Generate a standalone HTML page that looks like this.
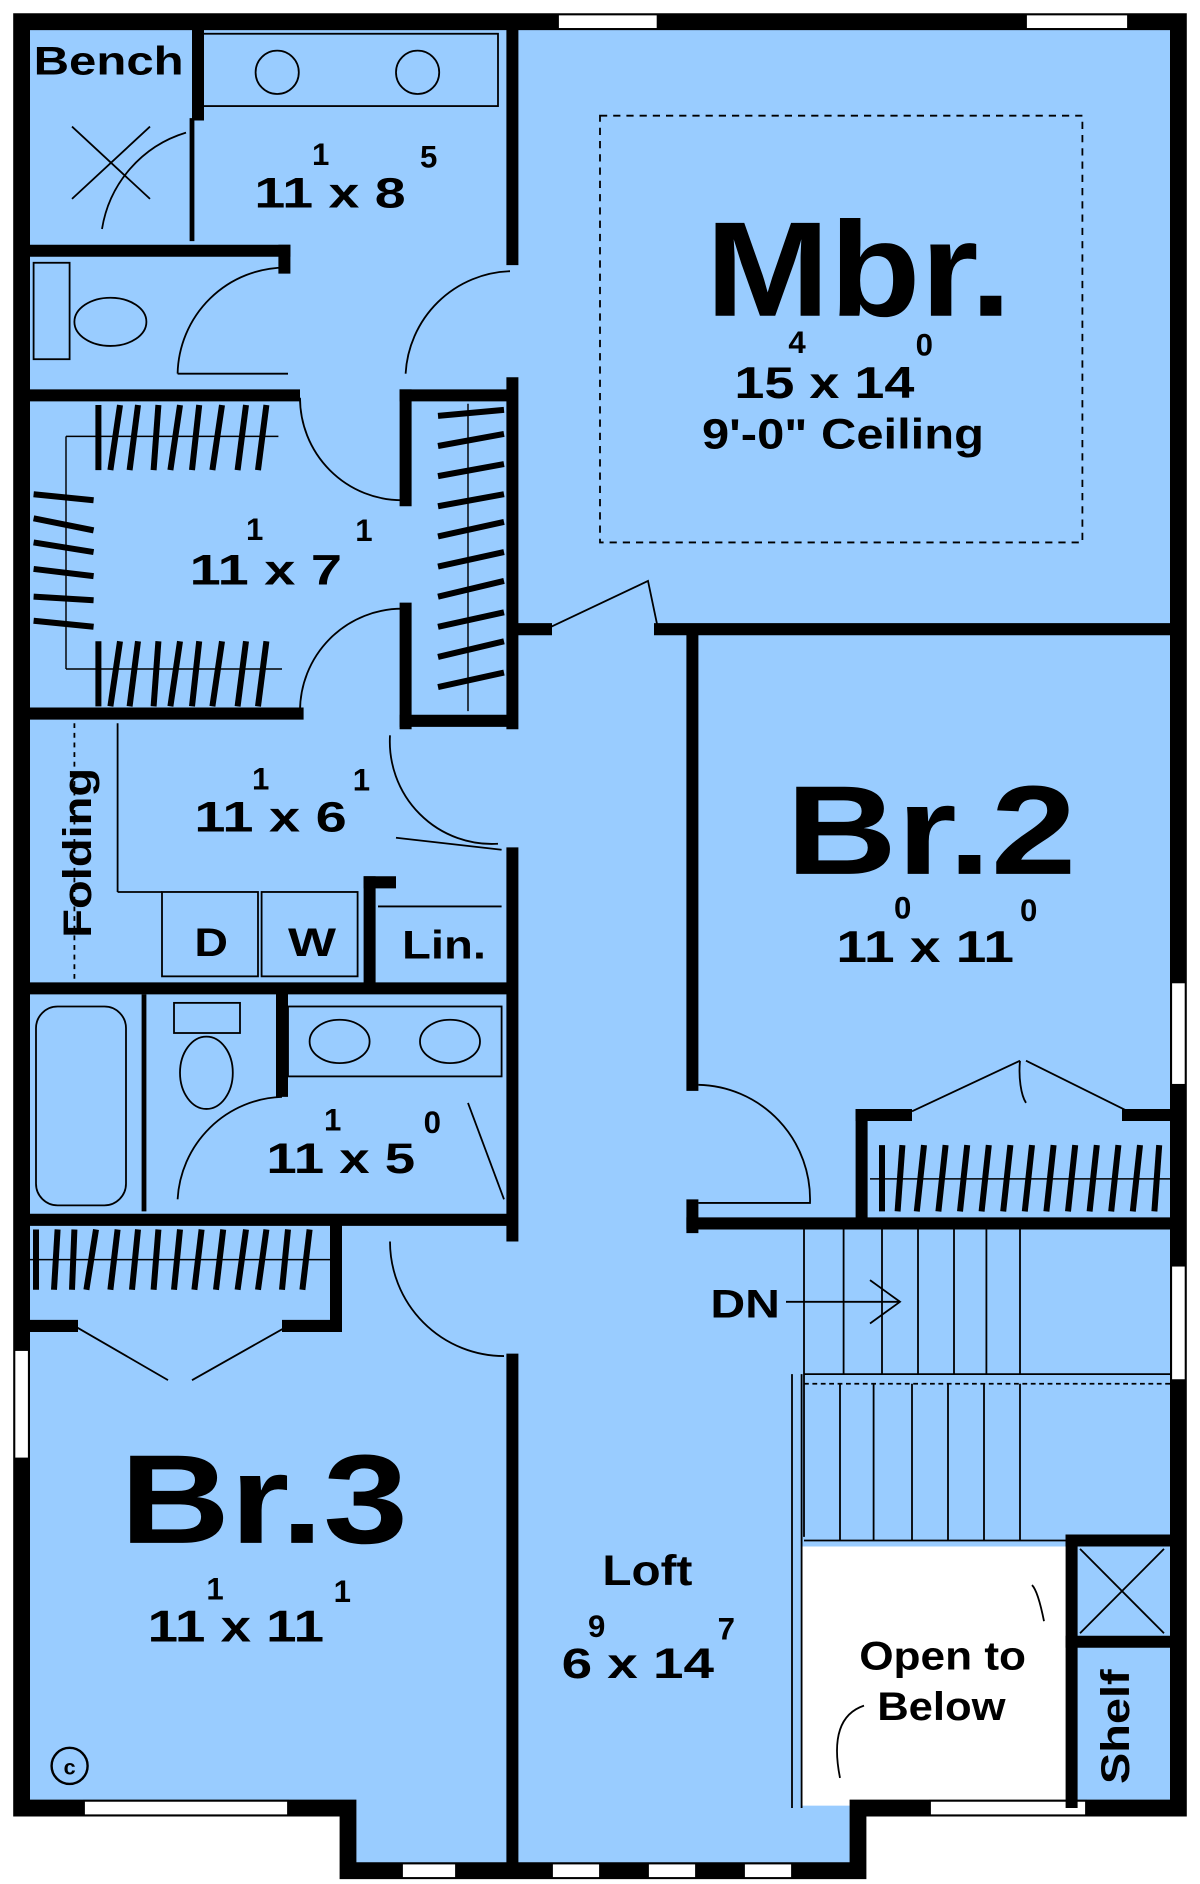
<!DOCTYPE html>
<html><head><meta charset="utf-8"><style>
html,body{margin:0;padding:0;background:#fff;}
svg{display:block;}
text{font-family:"Liberation Sans",Arial,sans-serif;font-weight:bold;fill:#000;}
</style></head><body>
<svg width="1200" height="1884" viewBox="0 0 1000 1563" preserveAspectRatio="none" xmlns="http://www.w3.org/2000/svg">
<rect width="1000" height="1563" fill="#fff"/>
<polygon points="18,18 982,18 982,1500 715,1500 715,1552 290,1552 290,1500 18,1500" fill="#99ccff"/>
<rect x="668" y="1283" width="222" height="215" fill="#fff"/>
<g fill="none" stroke="#000" stroke-width="14" stroke-linejoin="miter">
<polygon points="18,18 982,18 982,1500 715,1500 715,1552 290,1552 290,1500 18,1500"/>
</g>
<g fill="#fff" stroke="#000" stroke-width="1.5">
<rect x="465" y="12" width="83" height="12"/><rect x="855" y="12" width="85" height="12"/>
<rect x="976" y="815" width="12" height="85"/><rect x="976" y="1050" width="12" height="95"/>
<rect x="12" y="1120" width="12" height="90"/>
<rect x="70" y="1494" width="170" height="12"/><rect x="775" y="1494" width="130" height="12"/>
<rect x="335" y="1546" width="45" height="12"/><rect x="460" y="1546" width="40" height="12"/><rect x="540" y="1546" width="40" height="12"/><rect x="620" y="1546" width="40" height="12"/>
</g>
<g stroke="#000" stroke-width="10" fill="none" stroke-linecap="square">
<line x1="427" y1="18" x2="427" y2="215"/>
<line x1="427" y1="318" x2="427" y2="600"/>
<line x1="427" y1="708" x2="427" y2="1025"/>
<line x1="427" y1="1128" x2="427" y2="1550"/>
<line x1="430" y1="522" x2="455" y2="522"/>
<line x1="550" y1="522" x2="975" y2="522"/>
<line x1="577" y1="530" x2="577" y2="900"/>
<line x1="577" y1="1000" x2="577" y2="1018"/>
<line x1="577" y1="1015" x2="975" y2="1015"/>
<line x1="718" y1="925" x2="718" y2="1010"/>
<line x1="718" y1="925" x2="755" y2="925"/>
<line x1="940" y1="925" x2="975" y2="925"/>
<line x1="893" y1="1278" x2="975" y2="1278"/>
<line x1="893" y1="1278" x2="893" y2="1495"/>
<line x1="893" y1="1362" x2="975" y2="1362"/>
<line x1="18" y1="208" x2="237" y2="208"/>
<line x1="237" y1="208" x2="237" y2="222"/>
<line x1="165" y1="25" x2="165" y2="95"/>
<line x1="18" y1="328" x2="245" y2="328"/>
<line x1="338" y1="328" x2="425" y2="328"/>
<line x1="338" y1="328" x2="338" y2="415"/>
<line x1="18" y1="592" x2="248" y2="592"/>
<line x1="338" y1="505" x2="338" y2="600"/>
<line x1="338" y1="598" x2="425" y2="598"/>
<line x1="18" y1="820" x2="425" y2="820"/>
<line x1="235" y1="825" x2="235" y2="905"/>
<line x1="308" y1="732" x2="308" y2="815"/>
<line x1="308" y1="732" x2="325" y2="732"/>
<line x1="18" y1="1012" x2="425" y2="1012"/>
<line x1="280" y1="1015" x2="280" y2="1100"/>
<line x1="18" y1="1100" x2="60" y2="1100"/>
<line x1="240" y1="1100" x2="280" y2="1100"/>
</g>
<g stroke="#000" stroke-width="4">
<line x1="160" y1="98" x2="160" y2="200"/>
<line x1="120" y1="825" x2="120" y2="1005"/>
</g>
<g stroke="#000" stroke-width="1.5" fill="none">
<rect x="165" y="28" width="250" height="60"/>
<rect x="28" y="218" width="30" height="80"/>
<ellipse cx="92" cy="267" rx="30" ry="20"/>
<ellipse cx="231" cy="60" rx="18" ry="18"/><ellipse cx="348" cy="60" rx="18" ry="18"/>
<rect x="240" y="835" width="178" height="58"/>
<ellipse cx="283" cy="864" rx="25" ry="18"/><ellipse cx="375" cy="864" rx="25" ry="18"/>
<rect x="145" y="832" width="55" height="25"/>
<ellipse cx="172" cy="890" rx="22" ry="30"/>
<rect x="30" y="835" width="75" height="165" rx="18"/>
<rect x="135" y="740" width="80" height="70"/><rect x="218" y="740" width="80" height="70"/>
<line x1="98" y1="600" x2="98" y2="740"/><line x1="98" y1="740" x2="135" y2="740"/>
<line x1="62" y1="600" x2="62" y2="815" stroke-dasharray="4,4"/>
<line x1="315" y1="752" x2="418" y2="752"/>
<rect x="500" y="96" width="402" height="354" stroke-dasharray="6,5"/>
<path d="M148,310 A90,90 0 0 1 238,222 M148,310 L240,310"/>
<path d="M338,310 A90,90 0 0 1 425,225"/>
<path d="M250,330 A85,85 0 0 0 335,415"/>
<path d="M250,590 A85,85 0 0 1 335,505"/>
<path d="M325,610 A85,85 0 0 0 415,700"/>
<path d="M330,695 L418,705"/>
<path d="M148,995 A90,90 0 0 1 235,910"/>
<path d="M390,915 L420,995"/>
<path d="M325,1030 A95,95 0 0 0 420,1125"/>
<path d="M455,522 L540,482 L548,520"/>
<path d="M582,900 A95,95 0 0 1 675,998 L582,998"/>
<path d="M760,922 L850,880 M940,922 L855,880 M850,880 A10,30 0 0 0 855,915"/>
<path d="M62,1100 L140,1145 M240,1100 L160,1145"/>
<path d="M60,105 L125,165 M60,165 L125,105 M85,190 A100,100 0 0 1 155,110"/>
<line x1="670" y1="1020" x2="670" y2="1275"/>
<line x1="670" y1="1140" x2="975" y2="1140"/>
<line x1="670" y1="1148" x2="975" y2="1148" stroke-dasharray="4,3"/>
<line x1="670" y1="1278" x2="890" y2="1278"/>
<line x1="703" y1="1020" x2="703" y2="1140"/><line x1="735" y1="1020" x2="735" y2="1140"/><line x1="765" y1="1020" x2="765" y2="1140"/><line x1="795" y1="1020" x2="795" y2="1140"/><line x1="822" y1="1020" x2="822" y2="1140"/><line x1="850" y1="1020" x2="850" y2="1140"/>
<line x1="700" y1="1148" x2="700" y2="1278"/><line x1="728" y1="1148" x2="728" y2="1278"/><line x1="760" y1="1148" x2="760" y2="1278"/><line x1="790" y1="1148" x2="790" y2="1278"/><line x1="820" y1="1148" x2="820" y2="1278"/><line x1="850" y1="1148" x2="850" y2="1278"/>
<line x1="660" y1="1140" x2="660" y2="1500"/><line x1="668" y1="1140" x2="668" y2="1500"/>
<line x1="655" y1="1080" x2="750" y2="1080"/><path d="M725,1062 L750,1080 L725,1098"/>
<line x1="900" y1="1285" x2="970" y2="1355"/><line x1="970" y1="1285" x2="900" y2="1355"/>
<path d="M870,1345 Q865,1320 860,1315"/><path d="M720,1415 Q690,1425 700,1475"/>
</g>
<g stroke="#000" stroke-width="5">
<line x1="82" y1="336" x2="82" y2="390"/><line x1="100" y1="336" x2="92" y2="390"/><line x1="115" y1="336" x2="108" y2="390"/><line x1="132" y1="336" x2="128" y2="390"/><line x1="150" y1="336" x2="142" y2="390"/><line x1="166" y1="336" x2="160" y2="390"/><line x1="185" y1="336" x2="177" y2="390"/><line x1="205" y1="336" x2="198" y2="390"/><line x1="222" y1="336" x2="215" y2="390"/>
<g transform="translate(0,196)"><line x1="82" y1="336" x2="82" y2="390"/><line x1="100" y1="336" x2="92" y2="390"/><line x1="115" y1="336" x2="108" y2="390"/><line x1="132" y1="336" x2="128" y2="390"/><line x1="150" y1="336" x2="142" y2="390"/><line x1="166" y1="336" x2="160" y2="390"/><line x1="185" y1="336" x2="177" y2="390"/><line x1="205" y1="336" x2="198" y2="390"/><line x1="222" y1="336" x2="215" y2="390"/></g>
<line x1="28" y1="410" x2="78" y2="415"/><line x1="28" y1="430" x2="78" y2="440"/><line x1="28" y1="450" x2="78" y2="458"/><line x1="28" y1="472" x2="78" y2="478"/><line x1="28" y1="495" x2="78" y2="498"/><line x1="28" y1="515" x2="78" y2="520"/>
<line x1="365" y1="345" x2="420" y2="340"/><line x1="365" y1="370" x2="420" y2="360"/><line x1="365" y1="395" x2="420" y2="385"/><line x1="365" y1="420" x2="420" y2="410"/><line x1="365" y1="445" x2="420" y2="433"/><line x1="365" y1="470" x2="420" y2="458"/><line x1="365" y1="495" x2="420" y2="482"/><line x1="365" y1="520" x2="420" y2="508"/><line x1="365" y1="545" x2="420" y2="532"/><line x1="365" y1="570" x2="420" y2="558"/>
<line x1="30" y1="1020" x2="30" y2="1070"/><line x1="48" y1="1020" x2="45" y2="1070"/><line x1="62" y1="1020" x2="60" y2="1070"/><line x1="80" y1="1020" x2="72" y2="1070"/><line x1="98" y1="1020" x2="92" y2="1070"/><line x1="115" y1="1020" x2="110" y2="1070"/><line x1="132" y1="1020" x2="128" y2="1070"/><line x1="150" y1="1020" x2="145" y2="1070"/><line x1="168" y1="1020" x2="162" y2="1070"/><line x1="186" y1="1020" x2="180" y2="1070"/><line x1="205" y1="1020" x2="198" y2="1070"/><line x1="222" y1="1020" x2="215" y2="1070"/><line x1="240" y1="1020" x2="235" y2="1070"/><line x1="258" y1="1020" x2="252" y2="1070"/>
<line x1="735" y1="950" x2="735" y2="1005"/><line x1="752" y1="950" x2="748" y2="1005"/><line x1="770" y1="950" x2="764" y2="1005"/><line x1="788" y1="950" x2="782" y2="1005"/><line x1="806" y1="950" x2="800" y2="1005"/><line x1="824" y1="950" x2="818" y2="1005"/><line x1="842" y1="950" x2="836" y2="1005"/><line x1="860" y1="950" x2="854" y2="1005"/><line x1="878" y1="950" x2="872" y2="1005"/><line x1="896" y1="950" x2="890" y2="1005"/><line x1="914" y1="950" x2="908" y2="1005"/><line x1="932" y1="950" x2="926" y2="1005"/><line x1="950" y1="950" x2="944" y2="1005"/><line x1="966" y1="950" x2="962" y2="1005"/>
</g>
<g stroke="#000" stroke-width="1.2"><line x1="55" y1="362" x2="232" y2="362"/><line x1="55" y1="362" x2="55" y2="555"/><line x1="55" y1="555" x2="235" y2="555"/><line x1="390" y1="335" x2="390" y2="590"/><line x1="25" y1="1045" x2="275" y2="1045"/><line x1="725" y1="978" x2="975" y2="978"/></g>
<!-- labels -->
<text x="588" y="262" font-size="112" textLength="255" lengthAdjust="spacingAndGlyphs">Mbr.</text>
<text x="612" y="330" font-size="37" textLength="150" lengthAdjust="spacingAndGlyphs">15 x 14</text>
<text x="657" y="293" font-size="26">4</text><text x="763" y="295" font-size="26">0</text>
<text x="585" y="372" font-size="35" textLength="235" lengthAdjust="spacingAndGlyphs">9'-0" Ceiling</text>
<text x="655" y="725" font-size="105" textLength="242" lengthAdjust="spacingAndGlyphs">Br.2</text>
<text x="697" y="798" font-size="37" textLength="148" lengthAdjust="spacingAndGlyphs">11 x 11</text>
<text x="745" y="762" font-size="26">0</text><text x="850" y="764" font-size="26">0</text>
<text x="100" y="1280" font-size="105" textLength="240" lengthAdjust="spacingAndGlyphs">Br.3</text>
<text x="123" y="1362" font-size="37" textLength="147" lengthAdjust="spacingAndGlyphs">11 x 11</text>
<text x="172" y="1327" font-size="26">1</text><text x="278" y="1329" font-size="26">1</text>
<text x="212" y="172" font-size="35" textLength="126" lengthAdjust="spacingAndGlyphs">11 x 8</text>
<text x="260" y="137" font-size="26">1</text><text x="350" y="139" font-size="26">5</text>
<text x="158" y="485" font-size="35" textLength="127" lengthAdjust="spacingAndGlyphs">11 x 7</text>
<text x="205" y="448" font-size="26">1</text><text x="296" y="449" font-size="26">1</text>
<text x="162" y="690" font-size="35" textLength="127" lengthAdjust="spacingAndGlyphs">11 x 6</text>
<text x="210" y="655" font-size="26">1</text><text x="294" y="656" font-size="26">1</text>
<text x="222" y="973" font-size="35" textLength="124" lengthAdjust="spacingAndGlyphs">11 x 5</text>
<text x="270" y="938" font-size="26">1</text><text x="353" y="940" font-size="26">0</text>
<text x="502" y="1315" font-size="35" textLength="75" lengthAdjust="spacingAndGlyphs">Loft</text>
<text x="468" y="1392" font-size="35" textLength="127" lengthAdjust="spacingAndGlyphs">6 x 14</text>
<text x="490" y="1358" font-size="26">9</text><text x="598" y="1360" font-size="26">7</text>
<text x="28" y="62" font-size="33" textLength="125" lengthAdjust="spacingAndGlyphs">Bench</text>
<text x="162" y="793" font-size="33" textLength="28" lengthAdjust="spacingAndGlyphs">D</text>
<text x="240" y="793" font-size="33" textLength="40" lengthAdjust="spacingAndGlyphs">W</text>
<text x="335" y="795" font-size="33" textLength="70" lengthAdjust="spacingAndGlyphs">Lin.</text>
<text x="0" y="0" font-size="33" textLength="141" lengthAdjust="spacingAndGlyphs" transform="translate(76 778) rotate(-90)">Folding</text>
<text x="0" y="0" font-size="33" textLength="95" lengthAdjust="spacingAndGlyphs" transform="translate(941 1480) rotate(-90)">Shelf</text>
<text x="592" y="1093" font-size="33" textLength="58" lengthAdjust="spacingAndGlyphs">DN</text>
<text x="716" y="1385" font-size="33" textLength="139" lengthAdjust="spacingAndGlyphs">Open to</text>
<text x="731" y="1427" font-size="33" textLength="107" lengthAdjust="spacingAndGlyphs">Below</text>
<circle cx="58" cy="1465" r="15" fill="none" stroke="#000" stroke-width="2"/>
<text x="58" y="1472" font-size="18" text-anchor="middle" font-weight="normal">c</text>
</svg>
</body></html>
